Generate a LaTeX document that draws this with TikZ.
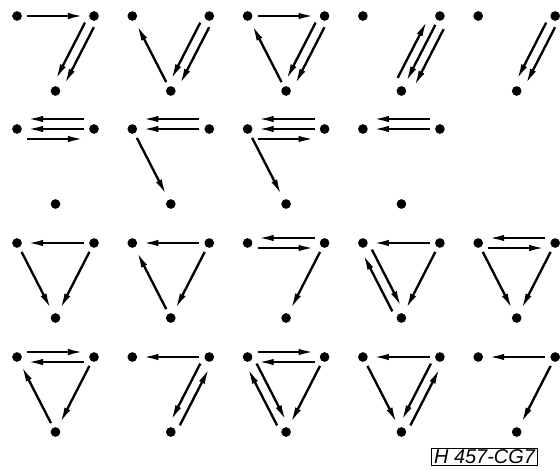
\documentclass[tikz,border=0pt]{standalone}
\usepackage{fontspec}
\newfontfamily\tagfont{Liberation Sans}
\usetikzlibrary{arrows.meta,calc}
\tikzset{
  >={Latex[length=4.8mm,width=1.9mm]},
  vtx/.style={circle,fill=black,inner sep=0pt,minimum size=2.9mm},
  arr/.style={line width=2pt,shorten <=3mm,shorten >=3mm},
  tagbox/.style={draw,line width=1.1pt,inner xsep=2pt,inner ysep=1.5pt,font=\tagfont\itshape\fontsize{17}{17}\selectfont},
}
% three dots of one graph: left, right, bottom
\newcommand{\dotset}[3]{%
  \node[vtx] (#1l) at (#2,#3) {};
  \node[vtx] (#1r) at ($(#1l)+(77,0)$) {};
  \node[vtx] (#1b) at ($(#1l)+(38.5,75)$) {};
}
% arrow between two dots, shifted sideways by #3
\newcommand{\dirlink}[4]{\draw[arr,#4] ($(#1)!#3!90:(#2)$) -- ($(#2)!#3!-90:(#1)$);}

\begin{document}
\begin{tikzpicture}[x=0.03cm,y=-0.03cm]
\useasboundingbox (0,0) rectangle (560,470);

\dotset{a1}{17}{16}
\dotset{a2}{132.3}{16}
\dotset{a3}{247.6}{16}
\dotset{a4}{362.9}{16}
\dotset{a5}{478.2}{16}
\dotset{b1}{17}{129}
\dotset{b2}{132.3}{129}
\dotset{b3}{247.6}{129}
\dotset{b4}{362.9}{129}
\dotset{c1}{17}{243}
\dotset{c2}{132.3}{243}
\dotset{c3}{247.6}{243}
\dotset{c4}{362.9}{243}
\dotset{c5}{478.2}{243}
\dotset{d1}{17}{357}
\dotset{d2}{132.3}{357}
\dotset{d3}{247.6}{357}
\dotset{d4}{362.9}{357}
\dotset{d5}{478.2}{357}

% first row
\dirlink{a1l}{a1r}{0mm}{->}
\dirlink{a1r}{a1b}{1.5mm}{->}
\dirlink{a1r}{a1b}{-1.5mm}{->}
\dirlink{a2b}{a2l}{0mm}{->}
\dirlink{a2r}{a2b}{1.5mm}{->}
\dirlink{a2r}{a2b}{-1.5mm}{->}
\dirlink{a3l}{a3r}{0mm}{->}
\dirlink{a3b}{a3l}{0mm}{->}
\dirlink{a3r}{a3b}{1.5mm}{->}
\dirlink{a3r}{a3b}{-1.5mm}{->}
\dirlink{a4r}{a4b}{-2.8mm}{<-}
\dirlink{a4r}{a4b}{0mm}{->}
\dirlink{a4r}{a4b}{2.8mm}{->}
\dirlink{a5r}{a5b}{1.5mm}{->}
\dirlink{a5r}{a5b}{-1.5mm}{->}

% second row
\dirlink{b1l}{b1r}{3mm}{<-}
\dirlink{b1l}{b1r}{0mm}{<-}
\dirlink{b1l}{b1r}{-3mm}{->}
\dirlink{b2l}{b2r}{3mm}{<-}
\dirlink{b2l}{b2r}{0mm}{<-}
\dirlink{b2b}{b2l}{0mm}{<-}
\dirlink{b3l}{b3r}{3mm}{<-}
\dirlink{b3l}{b3r}{0mm}{<-}
\dirlink{b3l}{b3r}{-3mm}{->}
\dirlink{b3b}{b3l}{0mm}{<-}
\dirlink{b4l}{b4r}{3mm}{<-}
\dirlink{b4l}{b4r}{0mm}{<-}

% third row
\dirlink{c1l}{c1r}{0mm}{<-}
\dirlink{c1b}{c1l}{0mm}{<-}
\dirlink{c1r}{c1b}{0mm}{->}
\dirlink{c2l}{c2r}{0mm}{<-}
\dirlink{c2b}{c2l}{0mm}{->}
\dirlink{c2r}{c2b}{0mm}{->}
\dirlink{c3l}{c3r}{1.5mm}{<-}
\dirlink{c3l}{c3r}{-1.5mm}{->}
\dirlink{c3r}{c3b}{0mm}{->}
\dirlink{c4l}{c4r}{0mm}{<-}
\dirlink{c4b}{c4l}{1.5mm}{->}
\dirlink{c4b}{c4l}{-1.5mm}{<-}
\dirlink{c4r}{c4b}{0mm}{->}
\dirlink{c5l}{c5r}{1.5mm}{<-}
\dirlink{c5l}{c5r}{-1.5mm}{->}
\dirlink{c5b}{c5l}{0mm}{<-}
\dirlink{c5r}{c5b}{0mm}{->}

% fourth row
\dirlink{d1l}{d1r}{1.5mm}{->}
\dirlink{d1l}{d1r}{-1.5mm}{<-}
\dirlink{d1b}{d1l}{0mm}{->}
\dirlink{d1r}{d1b}{0mm}{->}
\dirlink{d2l}{d2r}{0mm}{<-}
\dirlink{d2r}{d2b}{-1.5mm}{->}
\dirlink{d2r}{d2b}{1.5mm}{<-}
\dirlink{d3l}{d3r}{1.5mm}{->}
\dirlink{d3l}{d3r}{-1.5mm}{<-}
\dirlink{d3b}{d3l}{1.5mm}{->}
\dirlink{d3b}{d3l}{-1.5mm}{<-}
\dirlink{d3r}{d3b}{0mm}{->}
\dirlink{d4l}{d4r}{0mm}{<-}
\dirlink{d4b}{d4l}{0mm}{<-}
\dirlink{d4r}{d4b}{-1.5mm}{->}
\dirlink{d4r}{d4b}{1.5mm}{<-}
\dirlink{d5l}{d5r}{0mm}{<-}
\dirlink{d5r}{d5b}{0mm}{->}

\node[tagbox] (tag) at (484.5,457) {H 457-CG7};
\end{tikzpicture}
\end{document}
